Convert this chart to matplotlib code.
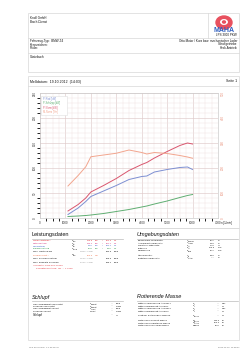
import matplotlib
matplotlib.use("Agg")
import matplotlib.pyplot as plt
from matplotlib.patches import Ellipse, Rectangle
from matplotlib.ticker import MultipleLocator

plt.rcParams['font.family'] = ['Liberation Sans', 'DejaVu Sans']

# ---------------- data ----------------
rpm = [1100, 1500, 1800, 2000, 2500, 3000, 3500, 4000, 4200, 4500, 5000, 5500, 5800, 6000]
p_rad = [7, 20, 33, 43, 54, 65, 77, 83, 84, 92, 97, 101, 102, 97]
p_schlepp = [3, 4, 5, 6, 9, 13, 17, 22, 24, 28, 34, 41, 45, 47]
p_norm = [14, 27, 40, 52, 65, 79, 95, 107, 111, 120, 133, 145, 150, 148]
m_norm = [128, 170, 205, 245, 252, 259, 272, 262, 256, 262, 258, 250, 244, 239]

series_names = ['P-Rad [kW]', 'P-Schlepp [kW]', 'P-Norm [kW]', 'M-Norm [Nm]']
series_colors = ['#7d8fd2', '#5fae72', '#d9566e', '#f2a58e']

x_ticks = [0, 1000, 2000, 3000, 4000, 5000, 6000, 7000]
left_ticks = [0, 50, 100, 150, 200, 250]
right_ticks = [0, 100, 200, 300, 400, 500]

# ---------------- figure ----------------
W, H = 250, 355
fig = plt.figure(figsize=(W / 100, H / 100), dpi=100)
fig.patch.set_facecolor('white')

ov = fig.add_axes([0, 0, 1, 1])
ov.set_xlim(0, W)
ov.set_ylim(H, 0)
ov.axis('off')

FS = 1.75
TXT = '#111111'
LINE = '#d8d8d8'


def t(x, y, s, color=TXT, size=FS, ha='left', **kw):
    ov.text(x, y, s, color=color, fontsize=size, ha=ha, va='center', **kw)


def sym(x, y, base, sub, color=TXT):
    t(x, y - 0.2, base, color=color, size=1.6)
    t(x + 1.2, y + 0.5, sub, color=color, size=1.0)


def hl(x0, x1, y, c=LINE, lw=0.5):
    ov.plot([x0, x1], [y, y], color=c, lw=lw)


def vl(x, y0, y1, c=LINE, lw=0.5):
    ov.plot([x, x], [y0, y1], color=c, lw=lw)


# boxes
ov.add_patch(Rectangle((28, 13), 211, 59, fill=False, ec=LINE, lw=0.5))
hl(28, 239, 38)
hl(28, 239, 53)
vl(208, 13, 38)
ov.add_patch(Rectangle((28, 76), 211, 152, fill=False, ec=LINE, lw=0.5))
hl(28, 239, 86)
ov.add_patch(Rectangle((28, 228), 211, 112, fill=False, ec=LINE, lw=0.5))

# header
t(30, 18, 'Knoll GmbH', size=2.2)
t(30, 22, 'Bosch-Dienst', size=2.2)
ov.add_patch(Ellipse((224, 22.5), 16, 13, color='#e8505e'))
ov.add_patch(Ellipse((224, 22), 6.5, 4.5, color='white'))
ov.add_patch(Ellipse((224, 22), 2.8, 2.2, color='#e8505e'))
t(224, 30, 'MAHA', color='#3060c0', size=5, ha='center', fontweight='bold')
t(237, 35, 'LPS 3000 PKW', ha='right', size=2.2)
t(30, 41, 'Fahrzeug-Typ:  BMW Z4', size=2.2)
t(30, 44.5, 'Kennzeichen:', size=2.2)
t(30, 48, 'Prüfer:', size=2.2)
t(237, 41, 'Otto-Motor / Kurz bzw. mechanischer Lader', ha='right', size=2.2)
t(237, 44.5, 'Schaltgetriebe', ha='right', size=2.2)
t(237, 48, 'Heck-Antrieb', ha='right', size=2.2)
t(30, 57, 'Gästebuch', size=2.2)
t(30, 81.5, 'Meßdatum:  19.10.2012  (14:03)', size=2.5)
t(237, 81.5, 'Seite 1', size=2.5, ha='right')

# ---------------- chart ----------------
ax = fig.add_axes([40 / W, 1 - 218 / H, 178 / W, 125 / H])
ax.set_xlim(0, 7000)
ax.set_ylim(0, 250)
ax.xaxis.set_major_locator(MultipleLocator(1000))
ax.xaxis.set_minor_locator(MultipleLocator(250))
ax.yaxis.set_major_locator(MultipleLocator(50))
ax.yaxis.set_minor_locator(MultipleLocator(10))
ax.grid(which='minor', color='#f1e3e3', lw=0.35)
ax.grid(which='major', color='#dfc9c9', lw=0.45)
ax.set_axisbelow(True)
for s in ax.spines.values():
    s.set_color('#cccccc')
    s.set_linewidth(0.5)
ax.set_xticks(x_ticks)
ax.set_xticklabels([str(v) for v in x_ticks])
ax.set_yticks(left_ticks)
ax.set_yticklabels([str(v) for v in left_ticks], rotation=90, va='center')
ax.tick_params(length=0, labelsize=2.2, colors='#333333', pad=2)

ax2 = ax.twinx()
ax2.set_ylim(0, 500)
ax2.set_yticks(right_ticks)
ax2.set_yticklabels([str(v) for v in right_ticks], rotation=90, va='center')
ax2.tick_params(length=0, labelsize=2.2, colors='#e8907a', pad=2)
for s in ax2.spines.values():
    s.set_visible(False)

ax.plot(rpm, p_rad, color=series_colors[0], lw=0.7)
ax.plot(rpm, p_schlepp, color=series_colors[1], lw=0.7)
ax.plot(rpm, p_norm, color=series_colors[2], lw=0.7)
ax2.plot(rpm, m_norm, color=series_colors[3], lw=0.7)

# legend box
ax.add_patch(Rectangle((40, 206), 1030, 38, transform=ax.transData, fc='white',
                       ec='#e0e0e0', lw=0.4, zorder=5))
for i, (nm, c) in enumerate(zip(series_names, series_colors)):
    ax.text(110, 238 - i * 8.5, nm, color=c, fontsize=1.8, va='center', zorder=6)

t(226, 223, 'n [1/min]', ha='center', size=2.0)

# ---------------- Leistungsdaten ----------------
t(32, 234.5, 'Leistungsdaten', size=4.0, color='#111111')
hl(32, 123, 238.5, c='#bbbbbb')
RED, MAG, BLUE, GREEN, ORANGE = '#e0202a', '#d02070', '#3a5cc8', '#1e9040', '#f06a40'
rows = [
    (240.8, 'Norm-Leistung *', RED, 'P', 'Norm', '143.6', 'kW', '201.2', 'PS'),
    (243.4, 'Motorleistung', MAG, 'P', 'Mot', '145.4', 'kW', '197.7', 'PS'),
    (246.0, 'Radleistung', BLUE, 'P', 'Rad', '98.6', 'kW', '134.1', 'PS'),
    (248.6, 'Schleppleistung', GREEN, 'P', 'Schlepp', '46.8', 'kW', '63.6', 'PS'),
]
for y, lab, c, b, sb, v1, u1, v2, u2 in rows:
    t(33, y, lab, color=c)
    sym(72, y, b, sb)
    t(93, y, v1, color=c, ha='right')
    t(94.5, y, u1, color=c)
    t(102, y, '/', color=c)
    t(112, y, v2, color=c, ha='right')
    t(113.5, y, u2, color=c)
t(33, 251.3, 'Max. Leistung bei')
t(93, 251.3, '5800  U/min', color='#999999', ha='right')
t(112, 251.3, '230.6', ha='right')
t(113.5, 251.3, 'km/h')
t(33, 255, 'Drehmoment *', color=ORANGE)
sym(72, 255, 'M', 'Norm')
t(93, 255, '272.6', color=ORANGE, ha='right')
t(94.5, 255, 'Nm', color=ORANGE)
t(33, 258.4, 'Max. Drehmoment bei')
t(93, 258.4, '3500  U/min', color='#999999', ha='right')
t(112, 258.4, '139.6', ha='right')
t(113.5, 258.4, 'km/h')
t(33, 262.2, 'Max. erreichte Drehzahl')
t(93, 262.2, '6000  U/min', color='#999999', ha='right')
t(112, 262.2, '236.4', ha='right')
t(113.5, 262.2, 'km/h')
t(33, 265.5, '* Korrektur nach DIN 70020', color=RED)
t(36, 268.5, 'Korrektur-Faktoren:  Qc  =  1.0016', color=RED)

# ---------------- Umgebungsdaten ----------------
t(137, 234.5, 'Umgebungsdaten', size=4.0, color='#111111', style='italic')
hl(137, 238, 238.5, c='#bbbbbb')
env = [
    (240.5, 'Umgebungs-Temperatur', 'T', 'Umgebung', '21.1', '°C'),
    (243.0, 'Ansaugluft-Temperatur', 'T', 'Ansaug', '24.6', '°C'),
    (245.5, 'Relative Luftfeuchte', 'F', 'Luft', '35.0', '%'),
    (248.0, 'Luftdruck', 'p', 'Luft', '973.6', 'hPa'),
    (250.5, 'Dampfdruck', 'p', 'Dampf', '12.7', 'hPa'),
    (255.5, 'Öl-Temperatur', 'T', 'Öl', '88.0', '°C'),
    (258.0, 'Kraftstoff-Temperatur', 'T', 'Kraftstoff', '---.-', '°C'),
]
for y, lab, b, sb, v, u in env:
    t(138, y, lab)
    sym(187, y, b, sb)
    t(215, y, v, ha='right')
    t(217.5, y, u)

# ---------------- Schlupf ----------------
t(32, 297, 'Schlupf', size=4.0, color='#111111', style='italic')
hl(32, 123, 300.5, c='#bbbbbb')
slip = [
    (304.0, 'Geschwindigkeit unbelastet', 'v', 'unbelastet', 'km/h'),
    (306.4, 'Drehzahl unbelastet', 'n', 'unbelastet', 'U/min'),
    (308.8, 'Geschwindigkeit Vollast', 'v', 'Vollast', 'km/h'),
    (311.2, 'Drehzahl Vollast', 'n', 'Vollast', 'U/min'),
]
for y, lab, b, sb, u in slip:
    t(33, y, lab)
    sym(90, y, b, sb)
    t(114, y, '----', ha='right', color='#888888')
    t(116, y, u)
t(33, 315, 'Schlupf', size=2.1)
t(114, 315, '----', ha='right', color='#888888')
t(116, 315, '%')

# ---------------- Rotierende Masse ----------------
t(137, 297, 'Rotierende Masse', size=4.0, color='#111111', style='italic')
hl(137, 238, 300.5, c='#bbbbbb')
rot = [
    (303.8, 'Mittlere Verzögerung Auslauf 1', 'a', '1', '----', 'm/s²'),
    (306.2, 'Mittlere Bremskraft Auslauf 1', 'F', '1', '----', 'N'),
    (308.6, 'Mittlere Verzögerung Auslauf 2', 'a', '2', '----', 'm/s²'),
    (311.0, 'Mittlere Bremskraft Auslauf 2', 'F', '2', '----', 'N'),
    (315.5, 'Kraft der Rotierenden Massen', 'F', 'Rotierend', '----', 'N'),
    (320.5, 'Rotierende Gesamt-Masse', 'm', 'Rotierend', '380.3', 'kg'),
    (322.9, 'Rotierende Prüfstands-Masse', 'm', 'Prüfstand', '370.2', 'kg'),
    (325.3, 'Rotierende Fahrzeug-Masse', 'm', 'Fahrzeug', '10.0', 'kg'),
]
for y, lab, b, sb, v, u in rot:
    t(138, y, lab)
    sym(193, y, b, sb)
    t(220, y, v, ha='right', color='#888888' if v == '----' else TXT)
    t(222, y, u)

# footer
t(29, 347, 'LPS 3000 PKW  V 1.26.09 (Y)', size=1.6, color='#666666')
t(239, 347, '2012-10-19  14:28:37', size=1.6, color='#666666', ha='right')

fig.savefig('out.png', dpi=100, facecolor='white')
